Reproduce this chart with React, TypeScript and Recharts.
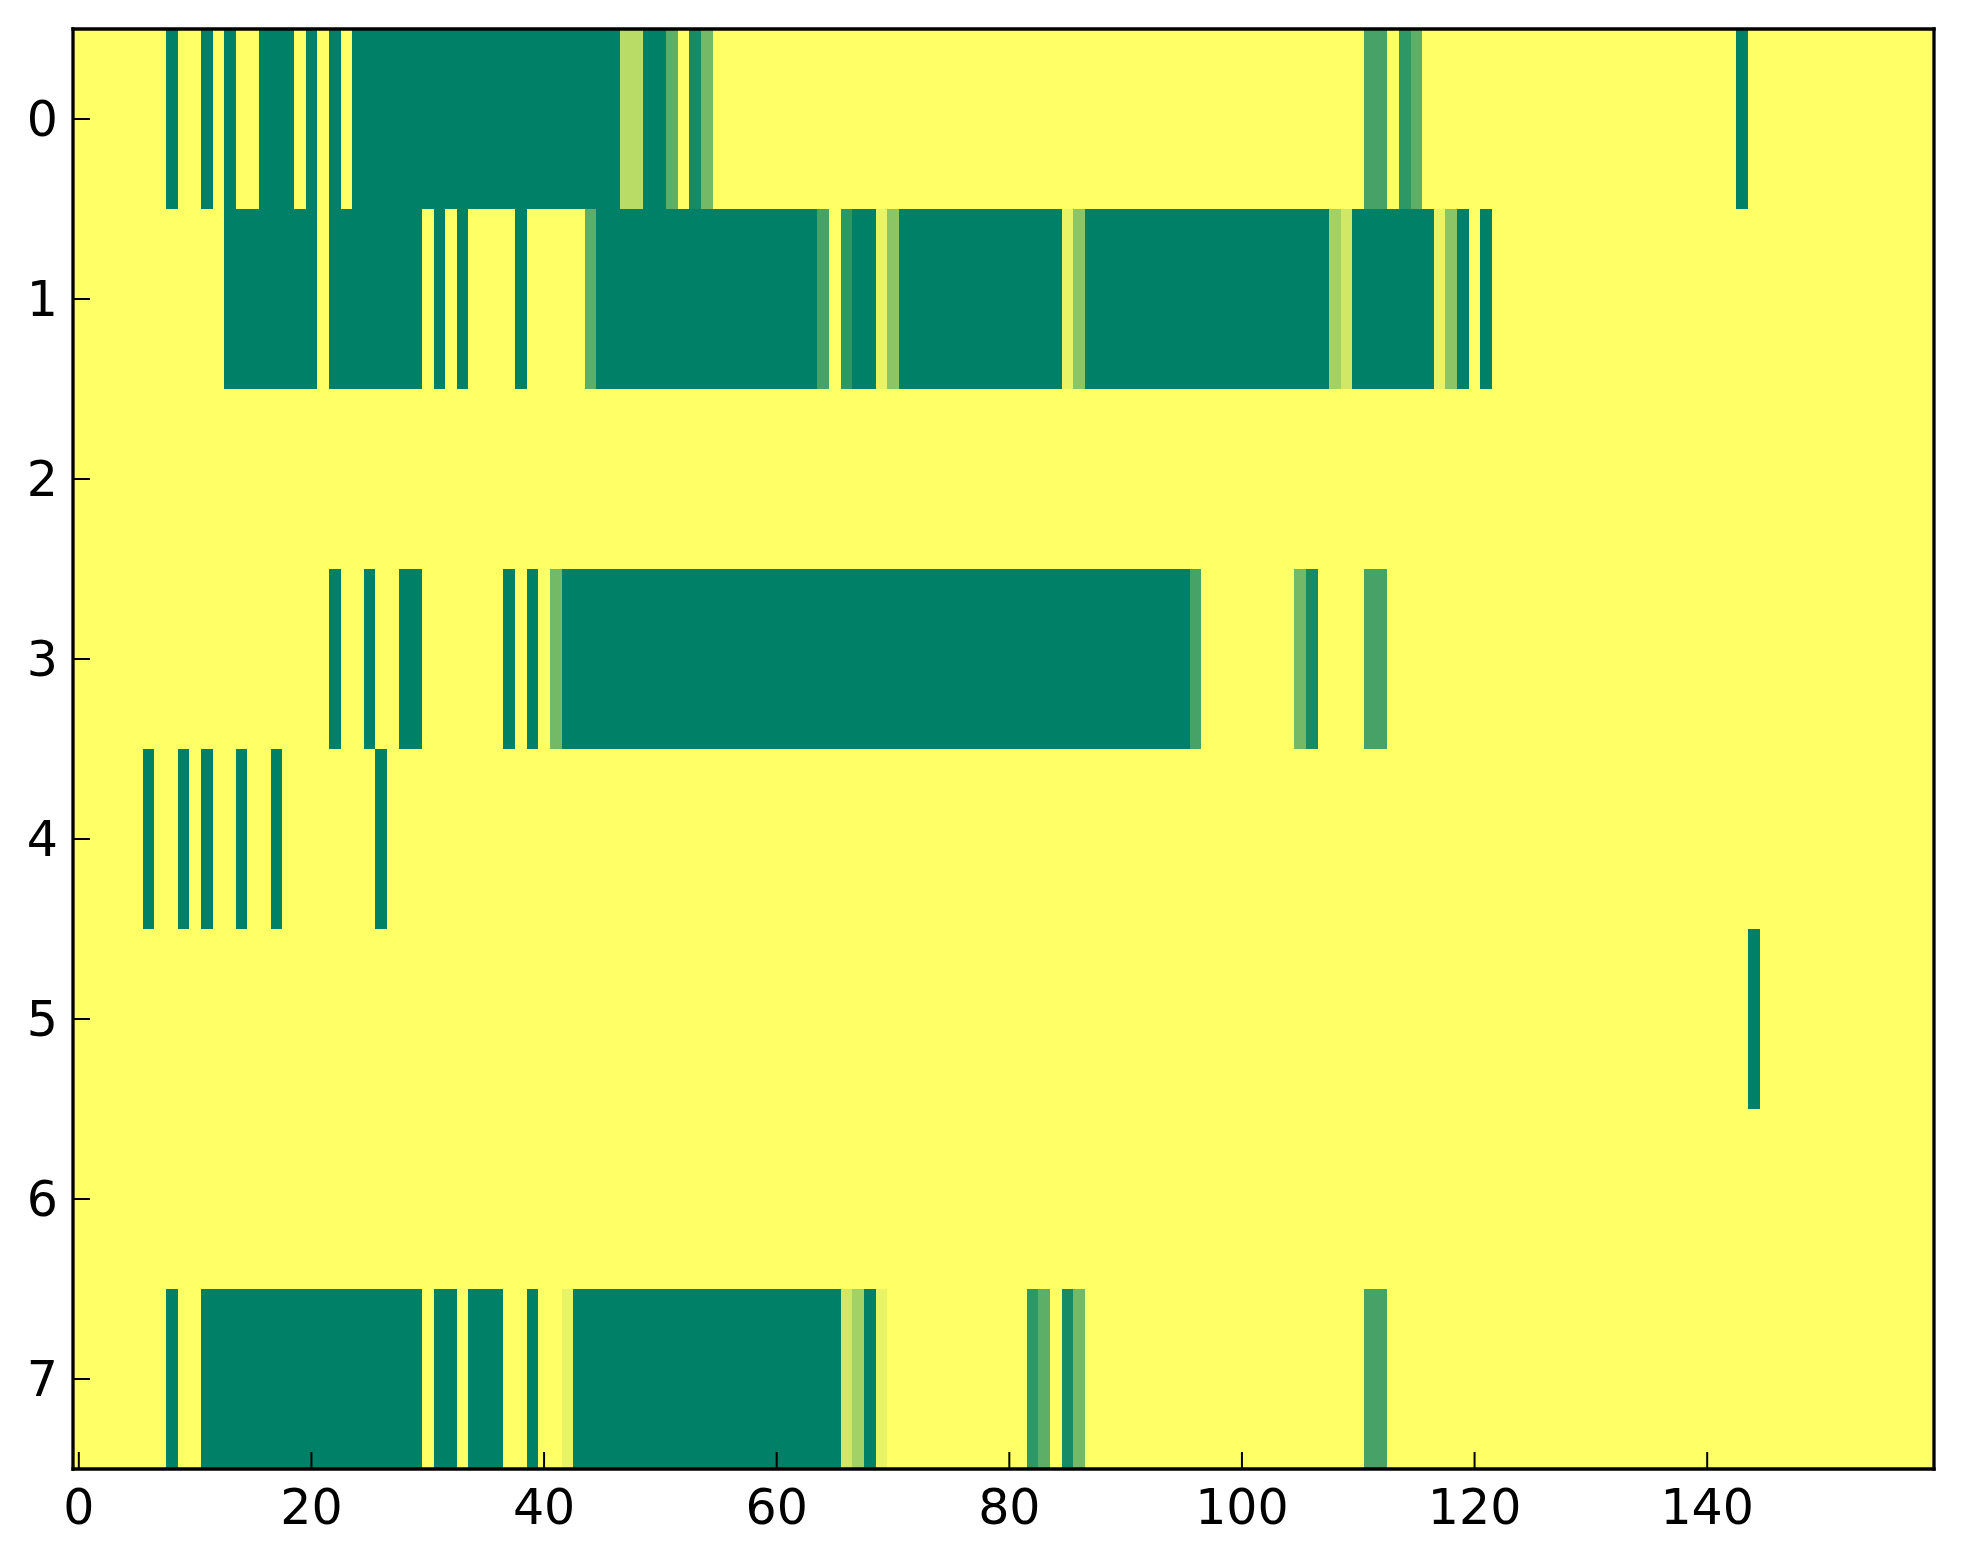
import React from 'react';
import { ComposedChart, XAxis, YAxis, ReferenceArea, Scatter } from 'recharts';

// Heatmap: 8 rows x 160 columns, values are levels 0..11 (0 = yellow background)
const columnCount = 160;
const rowLabels = [0, 1, 2, 3, 4, 5, 6, 7];
const xTicks = [0, 20, 40, 60, 80, 100, 120, 140];
const maxLevel = 11;

// Each entry: [firstColumn, lastColumn, level]
const row0Cells = [
  [8, 8, 11], [11, 11, 11], [13, 13, 11], [16, 18, 11], [20, 20, 11], [22, 22, 11],
  [24, 46, 11], [47, 48, 3], [49, 50, 11], [51, 51, 7], [53, 53, 10], [54, 54, 6],
  [111, 112, 8], [114, 114, 9], [115, 115, 7], [143, 143, 11],
];
const row1Cells = [
  [13, 20, 11], [22, 29, 11], [31, 31, 11], [33, 33, 11], [38, 38, 11], [44, 44, 7],
  [45, 63, 11], [64, 64, 8], [66, 66, 9], [67, 68, 11], [69, 69, 1], [70, 70, 5],
  [71, 84, 11], [85, 85, 1], [86, 86, 5], [87, 107, 11], [108, 108, 4], [109, 109, 2],
  [110, 116, 11], [117, 117, 1], [118, 118, 5], [119, 119, 11], [121, 121, 11],
];
const row2Cells: number[][] = [];
const row3Cells = [
  [22, 22, 11], [25, 25, 11], [28, 29, 11], [37, 37, 11], [39, 39, 11], [41, 41, 6],
  [42, 95, 11], [96, 96, 8], [105, 105, 6], [106, 106, 10], [111, 112, 8],
];
const row4Cells = [
  [6, 6, 11], [9, 9, 11], [11, 11, 11], [14, 14, 11], [17, 17, 11], [26, 26, 11],
];
const row5Cells = [[144, 144, 11]];
const row6Cells: number[][] = [];
const row7Cells = [
  [8, 8, 11], [11, 29, 11], [31, 32, 11], [34, 36, 11], [39, 39, 11], [42, 42, 1],
  [43, 65, 11], [66, 66, 2], [67, 67, 4], [68, 68, 11], [69, 69, 1], [82, 82, 9],
  [83, 83, 7], [85, 85, 10], [86, 86, 6], [111, 112, 8],
];

const rows = [row0Cells, row1Cells, row2Cells, row3Cells, row4Cells, row5Cells, row6Cells, row7Cells];

// matplotlib "summer_r" colormap
function summerR(level: number): string {
  const v = level / maxLevel;
  const r = Math.round(255 * (1 - v));
  const g = Math.round(255 * (1 - v / 2));
  return `rgb(${r},${g},102)`;
}

const cellShape = (fill: string) => (p: any) => (
  <rect x={p.x} y={p.y} width={p.width} height={p.height} fill={fill} stroke="none" shapeRendering="crispEdges" />
);

const tickFont = { fill: '#000', fontSize: 49, fontFamily: 'DejaVu Sans' };
const tickLine = { stroke: '#000', strokeWidth: 2 };
const frameLine = { stroke: '#000', strokeWidth: 3.3, strokeLinecap: 'square' as const };

// row anchor points (one per row) so the chart has a series bound to the scales
const rowPoints = rowLabels.map((r) => ({ col: 0, row: r }));

export default function App() {
  const xDomain = [-0.5, columnCount - 0.5];
  const yDomain = [-0.5, rowLabels.length - 0.5];
  return (
    <div style={{ position: 'absolute', left: 0, top: 0, width: 1963, height: 1564, background: '#fff' }}>
      <ComposedChart width={1963} height={1564} data={rowPoints} margin={{ top: 9, right: 9, bottom: 5, left: 3 }}>
        <ReferenceArea xAxisId="b" yAxisId="l" x1={xDomain[0]} x2={xDomain[1]} y1={yDomain[0]} y2={yDomain[1]}
          shape={cellShape(summerR(0))} ifOverflow="visible" />
        {rows.map((cells, rowIndex) =>
          cells.map(([c0, c1, level], i) => (
            <ReferenceArea key={`${rowIndex}-${i}`} xAxisId="b" yAxisId="l"
              x1={c0 - 0.5} x2={c1 + 0.5} y1={rowIndex - 0.5} y2={rowIndex + 0.5}
              shape={cellShape(summerR(level))} ifOverflow="visible" />
          ))
        )}
        <Scatter xAxisId="b" yAxisId="l" dataKey="row" isAnimationActive={false} fill="none" shape={() => <g />} />
        <XAxis xAxisId="b" dataKey="col" type="number" orientation="bottom" domain={xDomain} ticks={xTicks} interval={0}
          allowDataOverflow height={90} tickSize={-17} tickMargin={37}
          axisLine={frameLine} tickLine={tickLine} tick={tickFont} />
        <XAxis xAxisId="t" dataKey="col" type="number" orientation="top" domain={xDomain} ticks={xTicks} interval={0}
          allowDataOverflow height={20} tickSize={-17} axisLine={frameLine} tickLine={tickLine} tick={false} />
        <YAxis yAxisId="l" dataKey="row" type="number" orientation="left" domain={yDomain} ticks={rowLabels} interval={0}
          reversed allowDataOverflow width={70} tickSize={-17} tickMargin={32}
          axisLine={frameLine} tickLine={tickLine} tick={tickFont} />
        <YAxis yAxisId="r" dataKey="row" type="number" orientation="right" domain={yDomain} ticks={rowLabels} interval={0}
          reversed allowDataOverflow width={20} tickSize={-17} axisLine={frameLine} tickLine={tickLine} tick={false} />
      </ComposedChart>
    </div>
  );
}
